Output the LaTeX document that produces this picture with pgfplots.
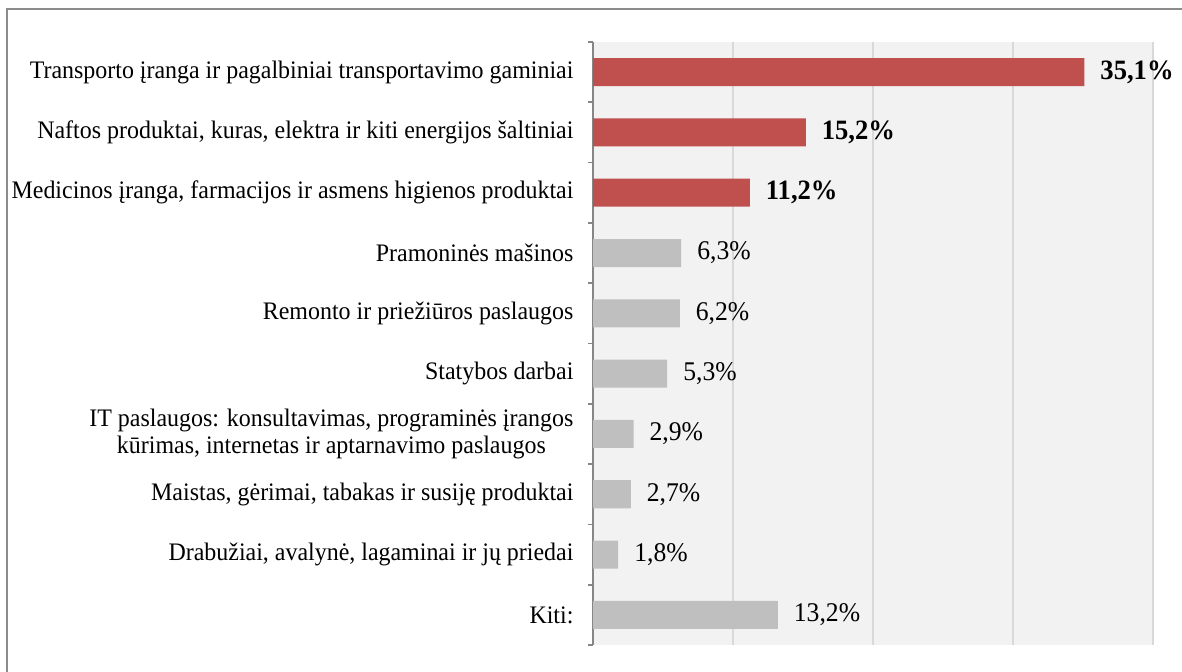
\documentclass[border=0pt]{standalone}
\usepackage{pgfplots}
\pgfplotsset{compat=1.18}
\usepackage{fontspec}
\setmainfont[FakeStretch=0.95]{Liberation Serif}
\definecolor{redbar}{HTML}{C0504D}
\definecolor{graybar}{HTML}{BFBFBF}
\definecolor{plotbg}{HTML}{F2F2F2}
\definecolor{gridc}{HTML}{D9D9D9}
\definecolor{axisc}{HTML}{868686}
\definecolor{framec}{HTML}{8C8C8C}
\begin{document}
\begin{tikzpicture}
\useasboundingbox (0,0) rectangle (591pt,336pt);
\fill[white] (0,0) rectangle (591pt,336pt);
\draw[framec, line width=1pt] (3.5pt,-5pt) -- (3.5pt,331.5pt) -- (600pt,331.5pt);
\begin{axis}[
  at={(296.5pt,13.5pt)}, anchor=south west,
  scale only axis, width=280pt, height=301.5pt,
  xbar, bar width=14pt,
  xmin=0, xmax=40, ymin=-0.5, ymax=9.5, y dir=reverse,
  axis x line*=bottom, axis y line*=left,
  x axis line style={draw=none},
  y axis line style={draw=axisc, line width=0.8pt},
  xtick={10,20,30,40}, xticklabels={}, major x tick style={draw=none},
  xmajorgrids, major grid style={draw=gridc, line width=0.8pt},
  axis background/.style={fill=plotbg},
  ytick={0,...,9}, major y tick style={draw=none},
  minor ytick={-0.5,0.5,...,9.5}, minor tick length=2.5pt,
  minor y tick style={draw=axisc, line width=0.8pt},
  tick align=outside,
  yticklabels={
    {Transporto įranga ir pagalbiniai transportavimo gaminiai},
    {Naftos produktai, kuras, elektra ir kiti energijos šaltiniai},
    {Medicinos įranga, farmacijos ir asmens higienos produktai},
    {Pramoninės mašinos},
    {Remonto ir priežiūros paslaugos},
    {Statybos darbai},
    {IT paslaugos: konsultavimas, programinės įrangos\\kūrimas, internetas ir aptarnavimo paslaugos},
    {Maistas, gėrimai, tabakas ir susiję produktai},
    {Drabužiai, avalynė, lagaminai ir jų priedai},
    {Kiti:}},
  yticklabel style={align=center, font=\fontsize{12.6}{13.5}\selectfont, xshift=-2pt},
  nodes near coords={\pgfmathprintnumber[fixed,fixed zerofill,precision=1,use comma,assume math mode=true]{\pgfplotspointmeta}\%},
  nodes near coords style={anchor=west, text=black},
  clip=false,
]
\addplot[fill=redbar, draw=none, bar shift=0pt,
  nodes near coords style={font=\bfseries\fontsize{14}{16}\selectfont, xshift=4.5pt}]
  coordinates {(35.1,0) (15.2,1) (11.2,2)};
\addplot[fill=graybar, draw=none, bar shift=0pt,
  nodes near coords style={font=\fontsize{13.5}{15}\selectfont, xshift=4.5pt}]
  coordinates {(6.3,3) (6.2,4) (5.3,5) (2.9,6) (2.7,7) (1.8,8) (13.2,9)};
\end{axis}
\end{tikzpicture}
\end{document}
